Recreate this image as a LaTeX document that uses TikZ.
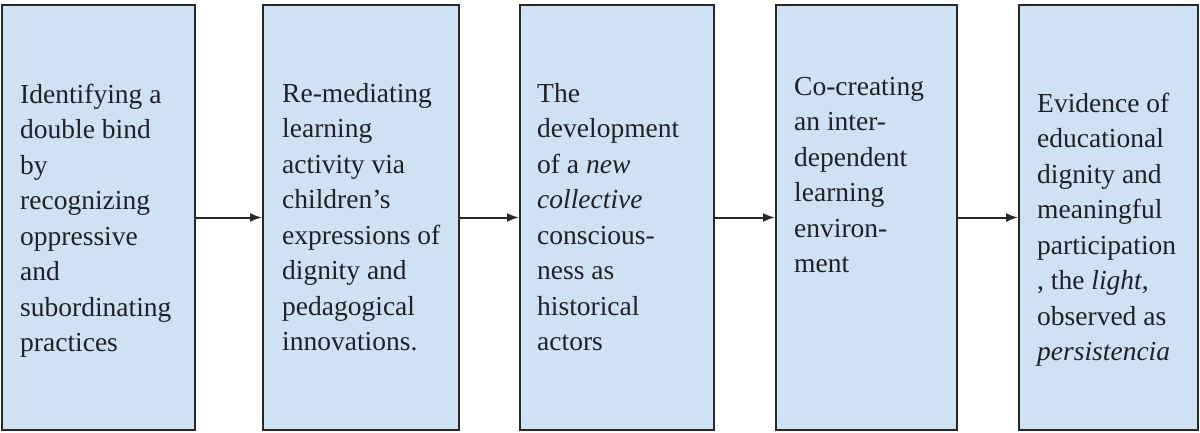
\documentclass[tikz,border=0pt]{standalone}
\usepackage{fontspec}
\setmainfont{Liberation Serif}
\usetikzlibrary{arrows.meta}
\definecolor{boxfill}{RGB}{207,226,243}
\definecolor{boxline}{RGB}{40,40,40}
\definecolor{txt}{RGB}{30,33,40}
\tikzset{
  stagebox/.style={draw=boxline, line width=2pt, fill=boxfill, minimum height=425pt, inner sep=0pt},
  stagetext/.style={anchor=north west, inner sep=0pt, align=left, text=txt, font=\fontsize{27.5}{35.5}\selectfont},
  flow/.style={draw=boxline, line width=2pt, -{Latex[length=12pt,width=9pt]}}
}
\begin{document}
\begin{tikzpicture}[x=1pt,y=-1pt]
\useasboundingbox (0,0) rectangle (1200,433);
\node[stagebox, minimum width=193pt] (b1) at (98.5,217.5) {};
\node[stagebox, minimum width=196pt] (b2) at (361,217.5) {};
\node[stagebox, minimum width=194pt] (b3) at (617,217.5) {};
\node[stagebox, minimum width=181pt] (b4) at (866.5,217.5) {};
\node[stagebox, minimum width=179pt] (b5) at (1108.5,217.5) {};

\node[stagetext] (t1) at (20,78.2) {\strut Identifying a\\double bind\\by\\recognizing\\oppressive\\and\\subordinating\\practices};
\node[stagetext] (t2) at (282,77.2) {\strut Re-mediating\\learning\\activity via\\children’s\\expressions of\\dignity and\\pedagogical\\innovations.};
\node[stagetext] (t3) at (537,77.2) {\strut The\\development\\of a \textit{new}\\\textit{collective}\\conscious-\\ness as\\historical\\actors};
\node[stagetext] (t4) at (794,70.2) {\strut Co-creating\\an inter-\\dependent\\learning\\environ-\\ment};
\node[stagetext] (t5) at (1037,87.2) {\strut Evidence of\\educational\\dignity and\\meaningful\\participation\\, the \textit{light},\\observed as\\\textit{persistencia}};

\draw[flow] (b1.east) -- (b2.west);
\draw[flow] (b2.east) -- (b3.west);
\draw[flow] (b3.east) -- (b4.west);
\draw[flow] (b4.east) -- (b5.west);
\end{tikzpicture}
\end{document}
